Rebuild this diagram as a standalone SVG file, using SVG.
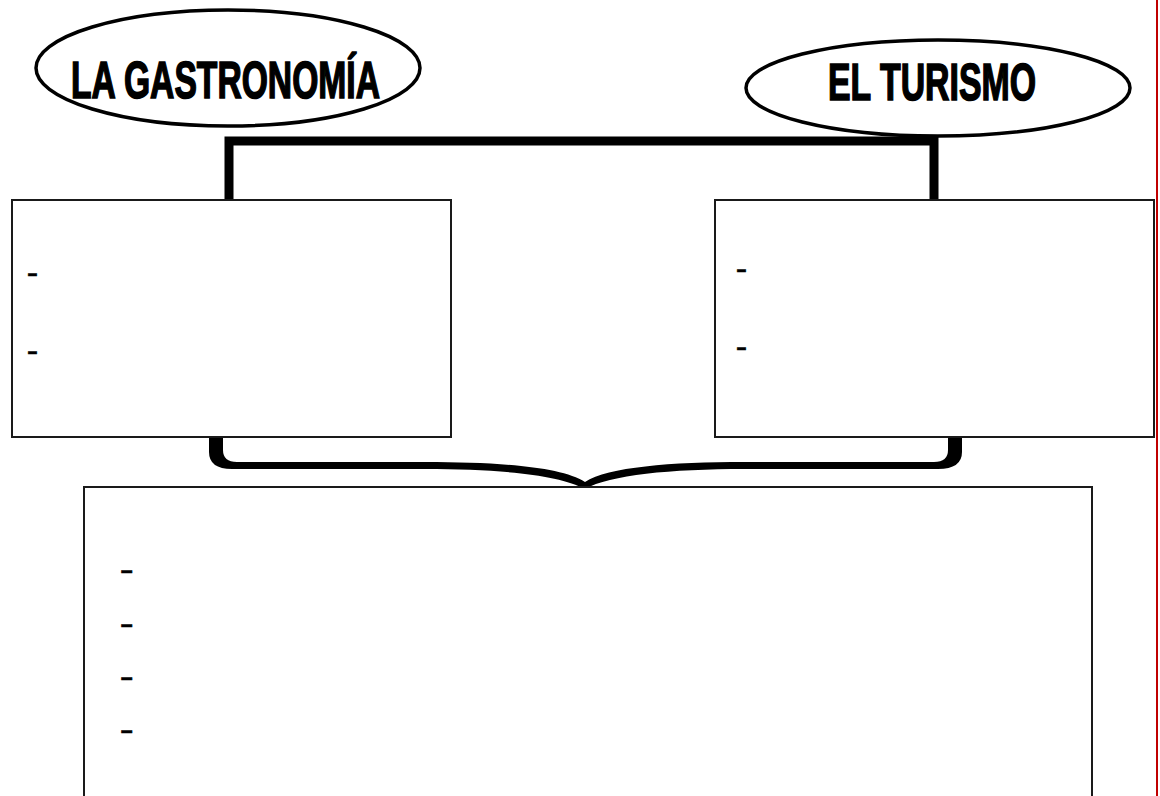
<svg xmlns="http://www.w3.org/2000/svg" width="1160" height="796" viewBox="0 0 1160 796">
<style>
.ell{fill:#fff;stroke:#000;stroke-width:3.5}
.title{font-family:"Liberation Sans Narrow","Liberation Sans",Arial,sans-serif;font-weight:bold;font-size:51px;fill:#000;stroke:#000;stroke-width:1.6}
.box{fill:#fff;stroke:#1a1a1a;stroke-width:2}
.dash{font-family:"Liberation Sans",Arial,sans-serif;font-size:20px;font-weight:bold;fill:#000;stroke:#000;stroke-width:0.4}
.conn{fill:none;stroke:#000;stroke-width:9;stroke-linejoin:miter}
</style>
<rect x="0" y="0" width="1160" height="796" fill="#fff"/>
<line x1="1157" y1="0" x2="1157" y2="796" stroke="#c00000" stroke-width="2"/>
<g id="connectors">
<path class="conn" d="M229 200 V141 H934 V200"/>
<path fill="#000" d="M209 437 V452 Q209 469 232 469 H425 C500 469 560 475 585 489 C610 475 670 469 745 469 H938 Q962 469 962 452 V437 H948 V450 Q948 462 934 462 H745 C670 462 608 467 585 482 C562 467 500 462 425 462 H237 Q223 462 223 450 V437 Z"/>
</g>
<g id="node-gastronomia">
<ellipse class="ell" cx="228" cy="68" rx="192" ry="58"/>
<text class="title" x="71" y="98" textLength="309" lengthAdjust="spacingAndGlyphs">LA GASTRONOMÍA</text>
</g>
<g id="node-turismo">
<ellipse class="ell" cx="938" cy="88" rx="192" ry="48"/>
<text class="title" x="828" y="100" textLength="208" lengthAdjust="spacingAndGlyphs">EL TURISMO</text>
</g>
<g id="node-left-box">
<rect class="box" x="12" y="200" width="439" height="237"/>
<text class="dash" x="27" y="279.5" textLength="11" lengthAdjust="spacingAndGlyphs">-</text>
<text class="dash" x="27" y="357.5" textLength="11" lengthAdjust="spacingAndGlyphs">-</text>
</g>
<g id="node-right-box">
<rect class="box" x="715" y="200" width="439" height="237"/>
<text class="dash" x="736" y="275.5" textLength="11" lengthAdjust="spacingAndGlyphs">-</text>
<text class="dash" x="736" y="353.5" textLength="11" lengthAdjust="spacingAndGlyphs">-</text>
</g>
<g id="node-bottom-box">
<rect class="box" x="84" y="487" width="1008" height="330"/>
<text class="dash" x="120" y="577" textLength="13.5" lengthAdjust="spacingAndGlyphs">-</text>
<text class="dash" x="120" y="631" textLength="13.5" lengthAdjust="spacingAndGlyphs">-</text>
<text class="dash" x="120" y="684" textLength="13.5" lengthAdjust="spacingAndGlyphs">-</text>
<text class="dash" x="120" y="737" textLength="13.5" lengthAdjust="spacingAndGlyphs">-</text>
</g>
</svg>
